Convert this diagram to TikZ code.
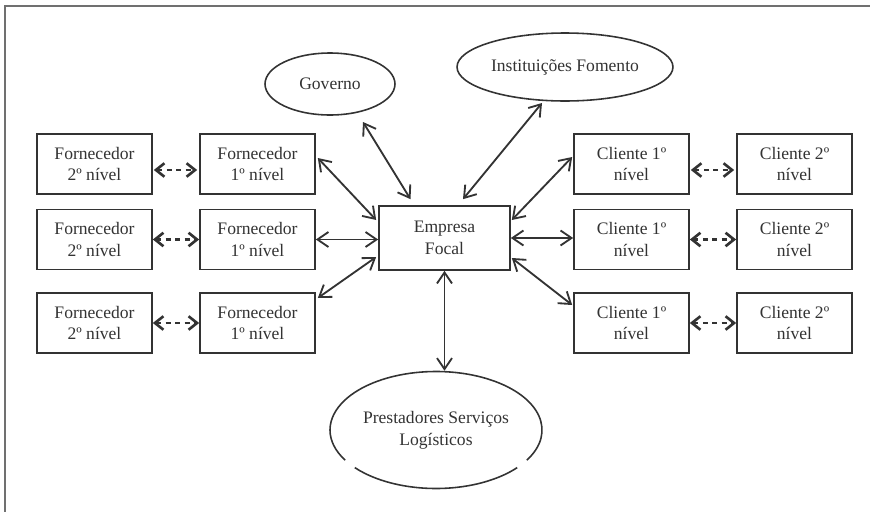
\documentclass[tikz,border=0pt]{standalone}
\usepackage{fontspec}
\setmainfont{Liberation Serif}
\usepackage{tikz}
\usetikzlibrary{arrows.meta,shapes.geometric,calc}
\definecolor{framegray}{HTML}{707070}
\definecolor{linkdark}{HTML}{333333}
\definecolor{textdark}{HTML}{333333}

\begin{document}
\begin{tikzpicture}[
  x=0.02cm, y=0.02cm,
  font=\fontsize{10}{12.5}\selectfont,
  text=textdark,
  actor/.style={draw=linkdark,line width=0.95pt,fill=white,align=center,
    minimum width=2.3cm,minimum height=1.2cm,inner sep=0pt},
  focal/.style={actor,minimum width=2.62cm,minimum height=1.28cm},
  agent/.style={ellipse,draw=linkdark,line width=0.9pt,align=center,inner sep=0pt},
  link/.style={{Straight Barb[length=0.22cm,width=0.3cm]}-{Straight Barb[length=0.22cm,width=0.3cm]},
    line width=1.05pt,draw=linkdark},
  weaklink/.style={{Straight Barb[length=0.17cm,width=0.27cm]}-{Straight Barb[length=0.17cm,width=0.27cm]},
    line width=1.5pt,draw=linkdark,dash pattern=on 2.8pt off 2.6pt}
]
  \useasboundingbox (0,0) rectangle (870,512);
  \draw[framegray,line width=0.9pt] (870,506) -- (5,506) -- (5,0);

  % fornecedores
  \node[actor] (forn2a) at (94.5,348) {Fornecedor\\2º nível};
  \node[actor] (forn2b) at (94.5,272.5) {Fornecedor\\2º nível};
  \node[actor] (forn2c) at (94.5,189) {Fornecedor\\2º nível};
  \node[actor] (forn1a) at (257.5,348) {Fornecedor\\1º nível};
  \node[actor] (forn1b) at (257.5,272.5) {Fornecedor\\1º nível};
  \node[actor] (forn1c) at (257.5,189) {Fornecedor\\1º nível};

  % clientes
  \node[actor] (cli1a) at (631.5,348) {Cliente 1º\\nível};
  \node[actor] (cli1b) at (631.5,272.5) {Cliente 1º\\nível};
  \node[actor] (cli1c) at (631.5,189) {Cliente 1º\\nível};
  \node[actor] (cli2a) at (794.5,348) {Cliente 2º\\nível};
  \node[actor] (cli2b) at (794.5,272.5) {Cliente 2º\\nível};
  \node[actor] (cli2c) at (794.5,189) {Cliente 2º\\nível};

  \node[focal] (empresa) at (444.5,274) {Empresa\\Focal};

  \node[agent,minimum width=2.6cm,minimum height=1.24cm] (governo) at (330,428)
    {Governo};
  \node[agent,minimum width=4.32cm,minimum height=1.36cm] (fomento) at (565,445)
    {Instituições Fomento};
  \node[agent,draw=none,minimum width=4.24cm,minimum height=2.34cm] (prestadores)
    at (436,82) {Prestadores Serviços\\Logísticos};
  \draw[linkdark,line width=0.9pt] (prestadores.center) ++(220:106 and 58.5)
    arc[start angle=220,end angle=320,x radius=106,y radius=58.5];
  \draw[linkdark,line width=0.9pt] (prestadores.center) ++(329:106 and 58.5)
    arc[start angle=329,end angle=571,x radius=106,y radius=58.5];

  % dashed links between levels
  \draw[weaklink] ($(forn2a.east)+(1,-6)$) -- ($(forn1a.west)+(-2,-6)$);
  \draw[weaklink] (forn2b.east) -- (forn1b.west);
  \draw[weaklink] (forn2c.east) -- (forn1c.west);
  \draw[weaklink] ($(cli1a.east)+(1,-6)$) -- ($(cli2a.west)+(-2,-6)$);
  \draw[weaklink] (cli1b.east) -- (cli2b.west);
  \draw[weaklink] (cli1c.east) -- (cli2c.west);

  % links to the focal company
  \draw[link] ($(forn1a.east)+(2,6)$) -- ($(empresa.west)+(-2,18)$);
  \draw[link] (forn1b.east) -- (forn1b.east -| empresa.west);
  \draw[link] ($(forn1c.east)+(2,25)$) -- ($(empresa.west)+(-2,-19)$);
  \draw[link] ($(empresa.east)+(1,18)$) -- ($(cli1a.west)+(-1,7)$);
  \draw[link] (empresa.east) -- (empresa.east -| cli1b.west);
  \draw[link] ($(empresa.east)+(1,-20)$) -- ($(cli1c.west)+(-1,18)$);
  \draw[link] ($(governo.center)+(33,-38)$) -- ($(empresa.north)+(-34,6)$);
  \draw[link] ($(fomento.center)+(-23,-36)$) -- ($(empresa.north)+(18.5,6)$);
  \draw[link] (empresa.south) -- (empresa.south |- prestadores.north);
\end{tikzpicture}
\end{document}
